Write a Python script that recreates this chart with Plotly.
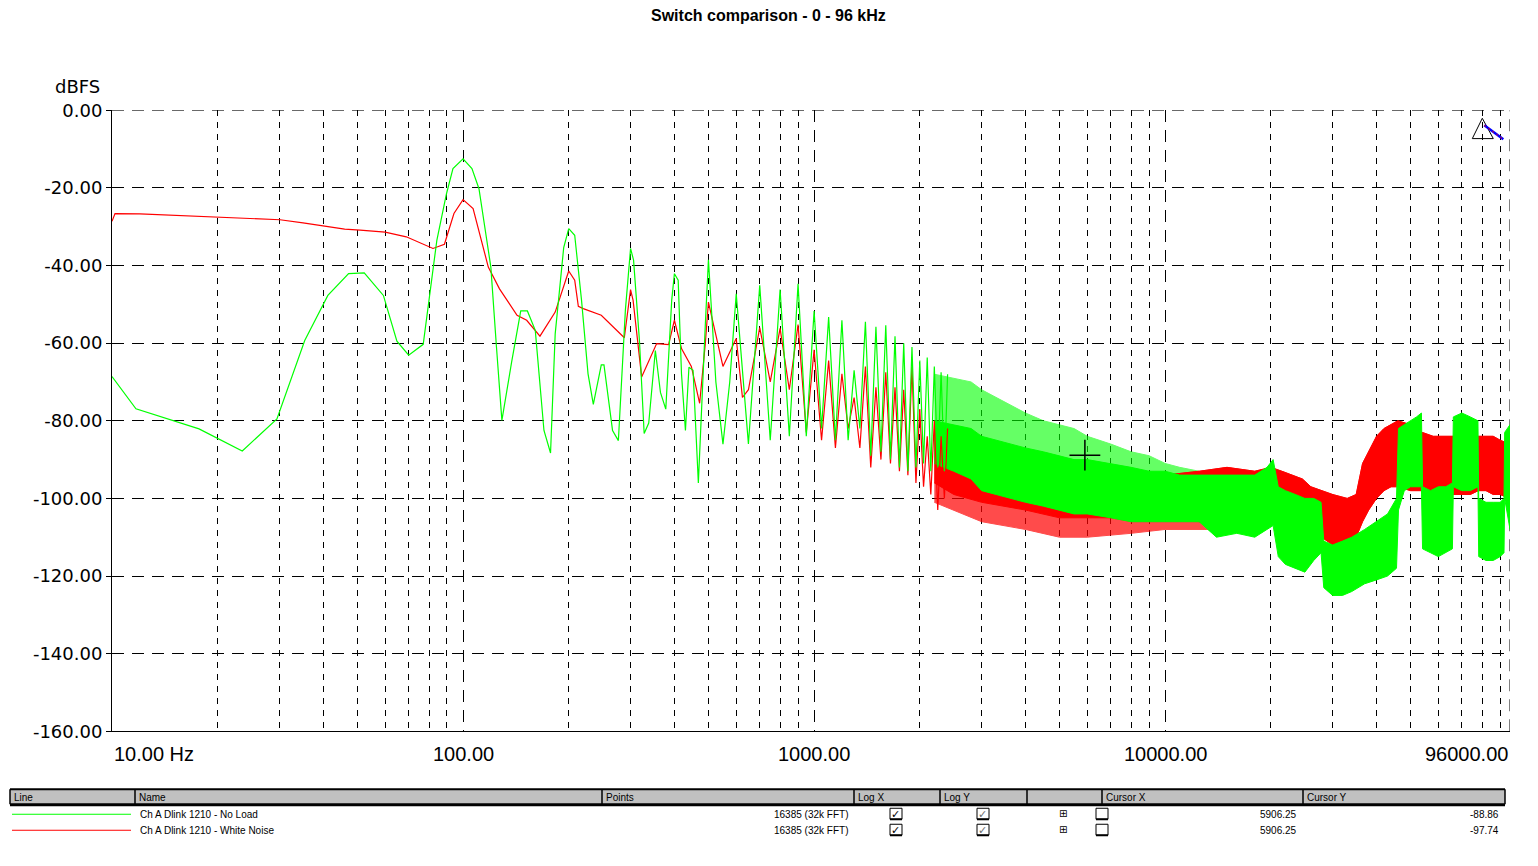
import math
import plotly.graph_objects as go

W, H = 1538, 866
# measured page placement of the figure in the screenshot (offset / vertical scale)
DX, DY, SY = 8.0, 18.7, 0.9758


def px(x):
    return (x - DX) / W


def py(y):
    return 1 - ((y - DY) / SY) / H


# ---------------- DATA ----------------
# "Ch A Dlink 1210 - No Load" (green), discrete part 10 Hz - 2.4 kHz
noload_f = [10, 11.7, 17.7, 23.5, 29.5, 35.4, 41.2, 47.2, 52.3, 59.3, 64.8, 70, 77, 84.2, 89.7,
            93.6, 100, 106, 111, 120, 124.5, 129, 137.5, 146, 152.5, 160.6, 170, 177.5, 183,
            193.5, 200, 208, 217.5, 227, 235, 247.6, 252, 266.6, 277, 290, 300, 306, 318, 328,
            338, 353, 365, 378, 393, 400, 410, 419, 430, 440, 452, 468, 490,
            500, 525, 550, 575, 600, 650, 700, 750, 800, 850, 900, 950, 1000, 1050, 1100, 1150,
            1200, 1250, 1300, 1350, 1400, 1450, 1500, 1550, 1600, 1650, 1700, 1750, 1800, 1850,
            1900, 1950, 2000, 2050, 2100, 2150, 2200, 2250, 2300, 2350, 2400]
noload_db = [-68.6, -76.9, -82.1, -87.8, -79.5, -59.3, -47.7, -42.1, -41.9, -47.7, -59.5, -63.1,
             -60.3, -33.5, -21.5, -15.0, -12.5, -15.0, -20.2, -40.4, -61.0, -79.9, -64.9, -51.7,
             -51.7, -56.7, -82.5, -88.3, -57.6, -35.4, -30.5, -32.2, -48.9, -67.9, -75.8, -65.6,
             -65.6, -82.5, -85.1, -51.5, -35.6, -38.6, -59.3, -83.3, -80.6, -61.9, -72.7, -77.0,
             -48.9, -42.1, -43.8, -67.9, -82.5, -66.2, -67.0, -96.0, -55.0,
             -38.5, -70.0, -86.0, -70.0, -47.3, -86.0, -45.1, -85.0, -46.2, -84.0, -44.7, -84.0,
             -51.7, -82.0, -53.3, -85.0, -54.1, -85.0, -67.0, -82.0, -54.5, -89.0, -55.8, -88.0,
             -55.4, -90.0, -58.2, -92.0, -60.0, -93.0, -61.0, -92.0, -64.5, -91.0, -63.7, -93.0,
             -66.0, -92.0, -67.5, -93.0, -68.0]

# "Ch A Dlink 1210 - White Noise" (red), discrete part 10 Hz - 2.4 kHz
noise_f = [10, 10.2, 12, 15, 19.6, 25, 30.1, 35, 40.6, 46, 50.9, 60, 68.9, 75, 82.1, 88.5, 94.2,
           100, 106.8, 118, 127, 142.5, 151.8, 165.6, 183, 200, 208, 213, 220, 247.6, 288, 300,
           305, 322.6, 356, 385, 400, 419, 447, 472, 490,
           500, 550, 600, 625, 650, 700, 750, 800, 850, 900, 950, 1000, 1050, 1100, 1150, 1200,
           1250, 1300, 1350, 1400, 1450, 1500, 1550, 1600, 1650, 1700, 1750, 1800, 1850, 1900,
           1950, 2000, 2050, 2100, 2150, 2200, 2250, 2300, 2350, 2400]
noise_db = [-28.6, -26.6, -26.7, -27.1, -27.5, -27.9, -28.2, -29.0, -29.9, -30.6, -30.9, -31.4,
            -32.6, -34.0, -35.6, -34.5, -26.6, -23.0, -25.3, -40.4, -46.0, -52.8, -54.1, -58.2,
            -52.0, -41.4, -43.8, -50.5, -51.1, -52.8, -58.6, -46.2, -48.9, -68.7, -60.1, -60.4,
            -54.1, -61.4, -66.0, -75.5, -60.0,
            -49.4, -66.0, -58.8, -74.0, -72.0, -56.0, -70.0, -56.2, -72.0, -55.2, -83.0, -61.7,
            -85.0, -64.5, -87.0, -67.9, -82.0, -74.0, -87.0, -66.0, -92.0, -71.4, -90.0, -67.5,
            -91.0, -71.4, -93.0, -72.0, -94.0, -66.0, -96.0, -77.0, -97.0, -84.0, -99.0, -80.0,
            -103.0, -84.0, -100.0, -82.0]

# Dense part, No Load (green): 2.2 - 12.5 kHz spike tips and dense core
noload_band_f_low = [2200, 2500, 2800, 3000, 3300, 3600, 4000, 4500, 5000, 5500, 6000, 7000,
                     8000, 9000, 10000, 11000, 12500]
noload_tip_hi = [-68, -69, -70, -72, -74, -76, -78, -80, -81, -82, -84, -86, -88, -89, -91, -92,
                 -93]
noload_core_hi = [-80, -81, -82, -84, -85, -86, -87, -88, -89, -90, -90, -91, -92, -93, -93, -94,
                  -94]
noload_core_lo = [-91, -93, -95, -98, -99, -100, -101, -102, -103, -104, -104, -105, -106, -106,
                  -106, -106, -106]
# Dense part, No Load (green): 14 - 96 kHz envelope
noload_band_f_high = [14000, 16000, 18000, 19500, 20300, 21000, 22000, 23500, 25000, 26500,
                      27800, 28300, 30000, 32000, 34000, 37000, 40000, 43000, 45600, 46200,
                      48000, 50000, 52000, 53700, 54100, 57000, 60000, 63000, 65800, 66200,
                      70000, 74000, 77800, 78200, 82000, 86000, 90000, 92300, 92700, 96000]
noload_high_hi = [-94, -94, -94, -92, -90, -97, -98, -99, -100, -100, -101, -111, -112, -111,
                  -110, -108, -106, -104, -100, -82, -81, -80, -79, -78, -97, -98, -97, -97, -96,
                  -79, -78, -79, -80, -100, -101, -101, -101, -100, -83, -81]
noload_high_lo = [-110, -109, -110, -108, -107, -115, -117, -118, -119, -116, -114, -123, -125,
                  -125, -124, -122, -121, -120, -118, -103, -98, -97, -97, -97, -113, -114, -115,
                  -114, -113, -97, -98, -98, -97, -115, -116, -116, -115, -114, -100, -108]

# Dense part, White Noise (red): 2.2 - 12.5 kHz
noise_band_f_low = [2200, 2500, 3000, 4000, 5000, 6000, 8000, 10000, 12500]
noise_low_hi = [-82, -84, -86, -88, -90, -91, -93, -94, -93]
noise_tip_lo = [-101, -103, -106, -108, -110, -110, -109, -108, -108]
noise_core_lo = [-96, -99, -101, -103, -105, -105, -105, -105, -106]
# Dense part, White Noise (red): 15 - 95.5 kHz envelope
noise_band_f_high = [15000, 18000, 20000, 21500, 23000, 24600, 26000, 28000, 30000, 33000, 35000,
                     36500, 38000, 40000, 42000, 44000, 46000, 50000, 54000, 58000, 62000, 66000,
                     70000, 74000, 78000, 82000, 86000, 90000, 95500]
noise_high_hi = [-92, -93, -92, -93, -94, -95, -97, -98, -99, -100, -99, -91, -88, -84, -82, -81,
                 -80, -81, -83, -84, -84, -84, -84, -84, -84, -84, -84, -85, -86]
noise_high_lo = [-108, -109, -106, -105, -106, -107, -108, -110, -112, -113, -110, -106, -103,
                 -100, -98, -97, -97, -98, -98, -99, -99, -99, -99, -99, -98, -98, -99, -99, -100]

cursor_x = [5906.25]
cursor_y = [-88.86]

y_ticks = [0, -20, -40, -60, -80, -100, -120, -140, -160]
y_tick_text = ["0.00", "-20.00", "-40.00", "-60.00", "-80.00", "-100.00", "-120.00", "-140.00",
               "-160.00"]
x_label_vals = [10, 100, 1000, 10000, 96000]
x_label_text = ["10.00 Hz", "100.00", "1000.00", "10000.00", "96000.00"]
x_label_anchor = ["left", "center", "center", "center", "right"]

major_grid = [100, 1000, 10000]
minor_grid = [20, 30, 40, 50, 60, 70, 80, 90, 200, 300, 400, 500, 600, 700, 800, 900,
              2000, 3000, 4000, 5000, 6000, 7000, 8000, 9000, 20000, 30000, 40000, 50000,
              60000, 70000, 80000, 90000]

series_names = ["Ch A Dlink 1210 - No Load", "Ch A Dlink 1210 - White Noise"]
series_colors = ["#00ff00", "#ff0000"]
points_text = ["16385 (32k FFT)", "16385 (32k FFT)"]
cursorx_text = ["5906.25", "5906.25"]
cursory_text = ["-88.86", "-97.74"]
table_headers = ["Line", "Name", "Points", "Log X", "Log Y", "", "Cursor X", "Cursor Y"]
table_cols = [10, 135, 602, 854, 940, 1027, 1102, 1303, 1505]

GREEN, RED = series_colors

# ---------------- FIGURE ----------------
fig = go.Figure()


def add_band(f, hi, lo, color, name, opacity=1.0):
    fig.add_trace(go.Scatter(
        x=list(f) + list(f)[::-1], y=list(hi) + list(lo)[::-1],
        mode="lines", fill="toself", fillcolor=color, opacity=opacity,
        line=dict(color=color, width=1), name=name, hoverinfo="skip"))


band_f_green = noload_band_f_low + noload_band_f_high
band_f_red = noise_band_f_low + noise_band_f_high

# sparse spike tips (partly covered by the dense cores)
add_band(noload_band_f_low, noload_tip_hi, noload_core_lo, GREEN, series_names[0], 0.6)
add_band(band_f_red, noise_low_hi + noise_high_hi, noise_tip_lo + noise_high_lo,
         RED, series_names[1], 0.7)
# dense cores
add_band(band_f_red, noise_low_hi + noise_high_hi, noise_core_lo + noise_high_lo,
         RED, series_names[1])
add_band(band_f_green, noload_core_hi + noload_high_hi, noload_core_lo + noload_high_lo,
         GREEN, series_names[0])
# discrete low-frequency parts
fig.add_trace(go.Scatter(x=noise_f, y=noise_db, mode="lines",
                         line=dict(color=RED, width=1.2), name=series_names[1]))
fig.add_trace(go.Scatter(x=noload_f, y=noload_db, mode="lines",
                         line=dict(color=GREEN, width=1.2), name=series_names[0]))
fig.add_trace(go.Scatter(x=cursor_x, y=cursor_y, mode="markers",
                         marker=dict(symbol="cross-thin", size=22,
                                     line=dict(color="black", width=1.5)),
                         name="cursor"))

shapes = []
shapes.append(dict(type="line", xref="x", yref="y", x0=96000, x1=96000, y0=-160, y1=0,
                   line=dict(color="black", width=1, dash="12px,8px"), layer="below"))
shapes.append(dict(type="line", xref="x", yref="y", x0=10, x1=96000, y0=0, y1=0,
                   line=dict(color="black", width=1, dash="12px,8px"), layer="below"))

# triangle widget top right
shapes.append(dict(type="path", xref="paper", yref="paper",
                   path=f"M {px(1482.3)} {py(118)} L {px(1472.3)} {py(138.3)} L {px(1493.3)} {py(138.3)} Z",
                   line=dict(color="black", width=1), fillcolor="rgba(0,0,0,0)"))
shapes.append(dict(type="line", xref="paper", yref="paper", x0=px(1484.3), y0=py(125),
                   x1=px(1503.3), y1=py(139), line=dict(color="#0000ff", width=2.5)))
shapes.append(dict(type="line", xref="paper", yref="paper", x0=px(1484.3), y0=py(125),
                   x1=px(1503.3), y1=py(139), line=dict(color="#ff0000", width=1, dash="2px,3px")))

# table header
shapes.append(dict(type="rect", xref="paper", yref="paper", x0=px(10), x1=px(1505),
                   y0=py(789), y1=py(804), fillcolor="#c0c0c0", line=dict(width=0)))
shapes.append(dict(type="line", xref="paper", yref="paper", x0=px(10), x1=px(1505),
                   y0=py(789), y1=py(789), line=dict(color="black", width=2)))
shapes.append(dict(type="line", xref="paper", yref="paper", x0=px(10), x1=px(1505),
                   y0=py(804.5), y1=py(804.5), line=dict(color="black", width=3)))
for c in table_cols:
    shapes.append(dict(type="line", xref="paper", yref="paper", x0=px(c), x1=px(c),
                       y0=py(789), y1=py(804), line=dict(color="black", width=1.5)))

annotations = []
annotations.append(dict(text="<b>Switch comparison - 0 - 96 kHz</b>", xref="paper", yref="paper",
                        x=px(768), y=py(15.5), xanchor="center", yanchor="middle",
                        showarrow=False,
                        font=dict(family="Liberation Sans", size=16, color="black")))
annotations.append(dict(text="dBFS", xref="paper", yref="paper", x=px(102), y=py(86),
                        xanchor="right", yanchor="middle", showarrow=False,
                        font=dict(family="DejaVu Sans", size=18, color="black")))
for v, t, a in zip(x_label_vals, x_label_text, x_label_anchor):
    annotations.append(dict(text=t, xref="x", yref="paper", x=math.log10(v), y=py(754),
                            xanchor=a, yanchor="middle", showarrow=False,
                            font=dict(family="Liberation Sans", size=20, color="black")))

tfont = dict(family="Liberation Sans", size=10, color="black")
for c, h in zip(table_cols, table_headers):
    if h:
        annotations.append(dict(text=h, xref="paper", yref="paper", x=px(c + 2), y=py(797),
                                xanchor="left", yanchor="middle", showarrow=False, font=tfont))

row_y = [814, 830]
for i in range(2):
    yy = row_y[i]
    shapes.append(dict(type="line", xref="paper", yref="paper", x0=px(12), x1=px(131),
                       y0=py(yy), y1=py(yy), line=dict(color=series_colors[i], width=1)))
    annotations.append(dict(text=series_names[i], xref="paper", yref="paper", x=px(138), y=py(yy),
                            xanchor="left", yanchor="middle", showarrow=False, font=tfont))
    annotations.append(dict(text=points_text[i], xref="paper", yref="paper", x=px(850), y=py(yy),
                            xanchor="right", yanchor="middle", showarrow=False, font=tfont))
    annotations.append(dict(text=cursorx_text[i], xref="paper", yref="paper", x=px(1299), y=py(yy),
                            xanchor="right", yanchor="middle", showarrow=False, font=tfont))
    annotations.append(dict(text=cursory_text[i], xref="paper", yref="paper", x=px(1501), y=py(yy),
                            xanchor="right", yanchor="middle", showarrow=False, font=tfont))
    for cx, chk, ccol in [(896, True, "black"), (983, True, "#707070"), (1102, False, "black")]:
        shapes.append(dict(type="rect", xref="paper", yref="paper", x0=px(cx - 6), x1=px(cx + 6),
                           y0=py(yy + 5), y1=py(yy - 6), line=dict(color="black", width=1),
                           fillcolor="white"))
        shapes.append(dict(type="line", xref="paper", yref="paper", x0=px(cx - 6), x1=px(cx + 6),
                           y0=py(yy + 5), y1=py(yy + 5), line=dict(color="black", width=2)))
        if chk:
            annotations.append(dict(text="✓", xref="paper", yref="paper", x=px(cx), y=py(yy),
                                    xanchor="center", yanchor="middle", showarrow=False,
                                    font=dict(family="DejaVu Sans", size=11, color=ccol)))
    annotations.append(dict(text="⊞", xref="paper", yref="paper", x=px(1063), y=py(yy - 1),
                            xanchor="center", yanchor="middle", showarrow=False,
                            font=dict(family="DejaVu Sans", size=10, color="black")))

fig.update_layout(
    width=W, height=H,
    margin=dict(l=0, r=0, t=0, b=0),
    paper_bgcolor="white", plot_bgcolor="white",
    showlegend=False,
    shapes=shapes, annotations=annotations,
    xaxis=dict(type="log", range=[1, math.log10(96000)], domain=[px(112), px(1510)],
               showline=True, linecolor="black", linewidth=1,
               tickvals=major_grid, showticklabels=False, ticks="",
               showgrid=True, gridcolor="black", gridwidth=1, griddash="12px,8px",
               minor=dict(tickvals=minor_grid, showgrid=True, gridcolor="black", gridwidth=1,
                          griddash="6px,6px", ticks=""),
               zeroline=False),
    yaxis=dict(range=[-160, 0], domain=[py(731), py(110)],
               showline=True, linecolor="black", linewidth=1,
               tickvals=y_ticks, ticktext=y_tick_text, ticks="outside", ticklen=5,
               tickcolor="black", tickfont=dict(family="DejaVu Sans", size=18, color="black"),
               showgrid=True, gridcolor="black", gridwidth=1, griddash="12px,8px",
               zeroline=False),
)

fig.write_html("out.html")
